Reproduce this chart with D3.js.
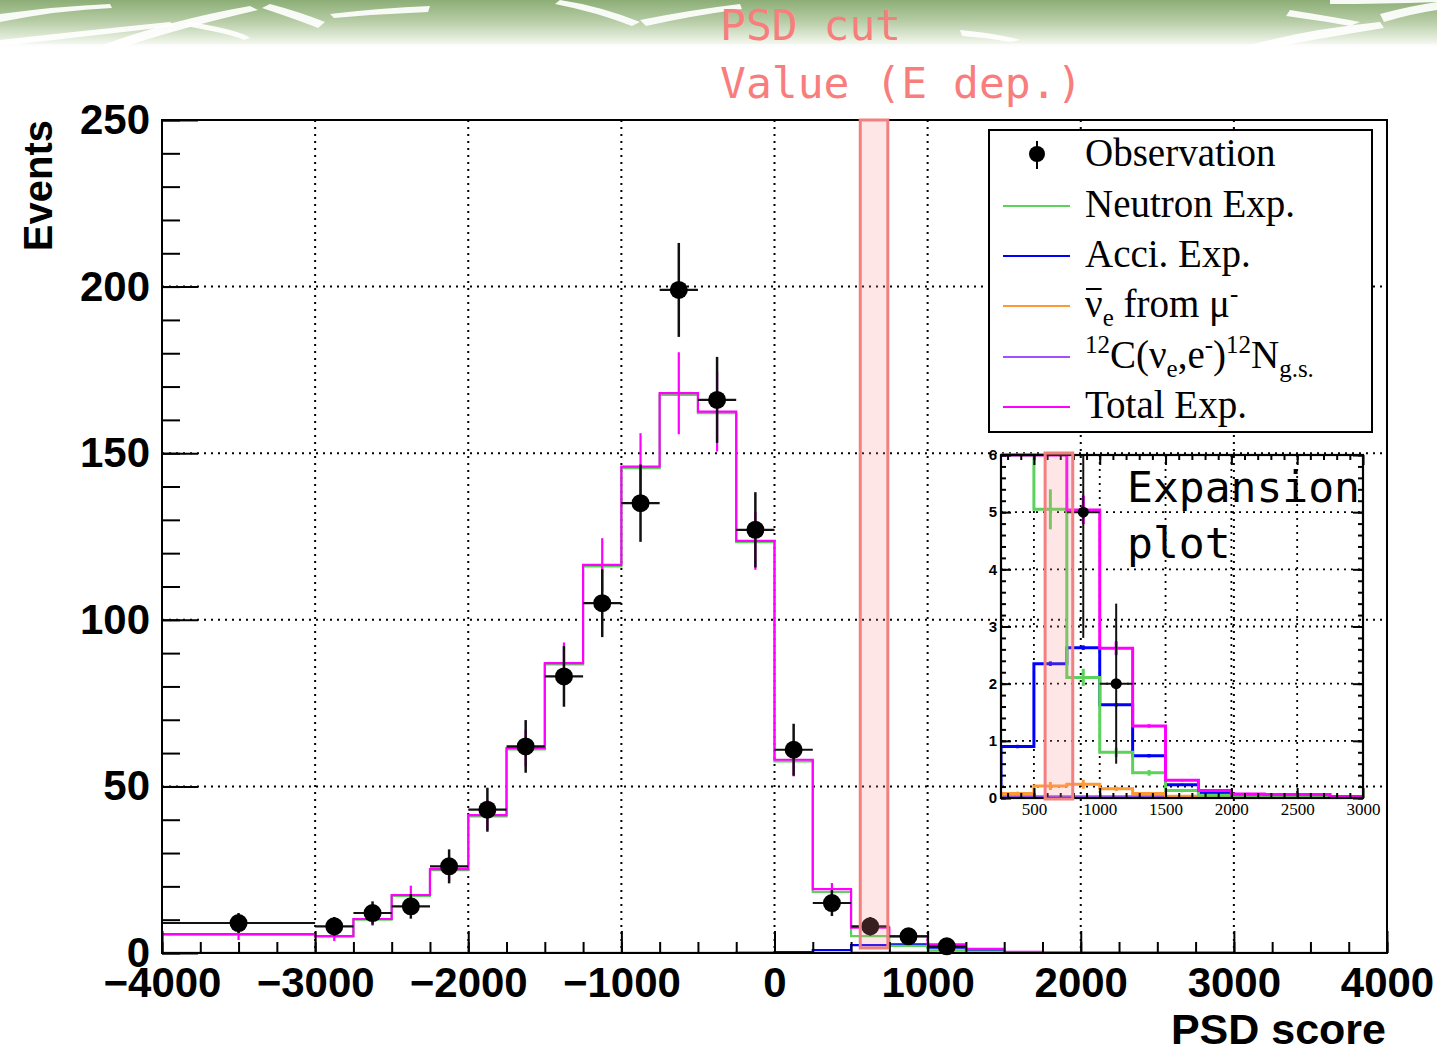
<!DOCTYPE html>
<html>
<head>
<meta charset="utf-8">
<script src="https://cdn.jsdelivr.net/npm/d3@7"></script>
<style>
  body { margin: 0; background: #fff; }
  svg { display: block; }
</style>
</head>
<body>
<div id="chart"></div>
<script>
const WIDTH = 1437;
const HEIGHT = 1050;

// bin edges of the PSD score histograms (first and last bins are wide)
const binEdges = [-4000, -3000, -2750, -2500, -2250, -2000, -1750, -1500, -1250, -1000,
  -750, -500, -250, 0, 250, 500, 750, 1000, 1250, 1500, 1750, 2000, 2250, 2500, 2750, 3000, 4000];

const observed = [9, 8, 12, 14, 26, 43, 62, 83, 105, 135, 199, 166, 127, 61, 15, 8, 5, 2,
  0, 0, 0, 0, 0, 0, 0, 0];
const observedErr = [3.0, 2.8, 3.5, 3.7, 5.1, 6.6, 7.9, 9.1, 10.2, 11.6, 14.1, 12.9, 11.3, 7.8,
  3.9, 2.8, 2.2, 1.4, 0, 0, 0, 0, 0, 0, 0, 0];

const neutronExp = [5.4, 4.9, 10.0, 17.1, 24.9, 41.0, 61.1, 86.6, 116.0, 145.5, 167.5, 162.0,
  123.3, 57.5, 18.3, 5.05, 2.11, 0.80, 0.44, 0.13, 0.05, 0.02, 0.02, 0.02, 0.01, 0];
const neutronErr = [1.8, 1.5, 2.0, 2.8, 3.5, 4.5, 5.5, 6.2, 8.0, 10.0, 12.3, 12.0, 8.7, 5.0,
  1.8, 0.35, 0.15, 0.08, 0.05, 0.03, 0.02, 0.01, 0.01, 0.01, 0, 0];

const acciExp = [0, 0, 0, 0, 0, 0, 0, 0, 0, 0, 0, 0, 0.05, 0.25, 0.9, 2.35, 2.63, 1.63, 0.74,
  0.23, 0.08, 0.03, 0.03, 0.02, 0.02, 0];
const acciErr = [0, 0, 0, 0, 0, 0, 0, 0, 0, 0, 0, 0, 0.01, 0.02, 0.03, 0.04, 0.04, 0.03, 0.03,
  0.02, 0.01, 0.01, 0.01, 0.01, 0.01, 0];

const nuebarExp = [0, 0, 0, 0, 0, 0, 0, 0, 0, 0, 0, 0, 0.01, 0.03, 0.08, 0.21, 0.24, 0.16, 0.08,
  0.03, 0.02, 0.01, 0.01, 0.01, 0.01, 0];
const nuebarErr = [0, 0, 0, 0, 0, 0, 0, 0, 0, 0, 0, 0, 0.01, 0.02, 0.03, 0.07, 0.08, 0.04, 0.02,
  0.01, 0.01, 0.01, 0, 0, 0, 0];

const c12Exp = [0.01, 0.01, 0.01, 0.01, 0.01, 0.01, 0.01, 0.01, 0.01, 0.01, 0.01, 0.01, 0.02,
  0.02, 0.02, 0.02, 0.02, 0.02, 0.02, 0.02, 0.02, 0.01, 0.01, 0.01, 0.01, 0.01];

const totalExp = [5.7, 5.1, 10.2, 17.4, 25.2, 41.4, 61.5, 87.0, 116.5, 146.0, 168.0, 162.5,
  123.7, 58.0, 19.2, 7.6, 5.04, 2.62, 1.26, 0.31, 0.13, 0.07, 0.06, 0.06, 0.02, 0];
const totalErr = [1.8, 1.5, 2.0, 2.8, 3.5, 4.5, 5.5, 6.2, 8.0, 10.0, 12.3, 12.0, 8.7, 5.0,
  1.8, 0.4, 0.25, 0.12, 0.03, 0.02, 0.01, 0.01, 0.01, 0.01, 0, 0];

const xMajorTicks = [-4000, -3000, -2000, -1000, 0, 1000, 2000, 3000, 4000];
const yMajorTicks = [0, 50, 100, 150, 200, 250];
const insetXTicks = [500, 1000, 1500, 2000, 2500, 3000];
const insetYTicks = [0, 1, 2, 3, 4, 5, 6];

// PSD cut window (annotation) in each panel
const cutMain = [560, 740];
const cutInset = [585, 795];

const COLORS = {
  neutron: '#5bd35b',
  acci: '#0000ff',
  nuebar: '#ff9933',
  c12: '#a050ff',
  total: '#ff00ff',
  cut: '#f28080',
  note: '#f87e7e'
};

const series = [
  { name: 'c12', values: c12Exp, err: null, color: COLORS.c12 },
  { name: 'nuebar', values: nuebarExp, err: nuebarErr, color: COLORS.nuebar },
  { name: 'acci', values: acciExp, err: acciErr, color: COLORS.acci },
  { name: 'neutron', values: neutronExp, err: neutronErr, color: COLORS.neutron },
  { name: 'total', values: totalExp, err: totalErr, color: COLORS.total }
];

const fmt = d3.format('d');

const svg = d3.select('#chart')
  .append('svg')
  .attr('width', WIDTH)
  .attr('height', HEIGHT);

// ---------- slide banner ----------
const defs = svg.append('defs');
const grad = defs.append('linearGradient')
  .attr('id', 'banner')
  .attr('x1', 0).attr('y1', 0).attr('x2', 0).attr('y2', 1);
grad.append('stop').attr('offset', '0%').attr('stop-color', '#8dae76');
grad.append('stop').attr('offset', '45%').attr('stop-color', '#b7cda6');
grad.append('stop').attr('offset', '80%').attr('stop-color', '#e4eddc');
grad.append('stop').attr('offset', '100%').attr('stop-color', '#ffffff');

svg.append('rect')
  .attr('x', 0).attr('y', 0)
  .attr('width', WIDTH).attr('height', 48)
  .attr('fill', 'url(#banner)');

const streaks = [
  'M0,14 Q60,6 110,4 L112,8 Q60,10 0,22 Z',
  'M0,40 Q90,30 170,22 L175,26 Q90,36 0,46 Z',
  'M100,46 Q170,20 250,6 L258,10 Q180,28 120,48 Z',
  'M190,22 Q240,30 250,38 L244,40 Q232,34 185,26 Z',
  'M270,4 Q300,12 325,22 L318,28 Q298,20 262,8 Z',
  'M330,14 Q380,8 430,6 L428,12 Q380,14 334,18 Z',
  'M560,0 Q600,6 640,22 L632,26 Q596,12 555,4 Z',
  'M640,20 Q690,10 740,4 L742,9 Q690,16 646,26 Z',
  'M960,30 Q1000,34 1020,40 L1010,42 Q990,38 962,36 Z',
  'M1240,48 Q1300,30 1380,22 L1384,28 Q1310,40 1270,48 Z',
  'M1290,10 Q1340,18 1360,22 L1350,26 Q1330,22 1286,16 Z',
  'M1380,14 Q1410,6 1437,2 L1437,10 Q1410,14 1384,22 Z',
  'M1330,0 L1437,0 L1437,2 Q1380,4 1330,4 Z'
];
svg.append('g')
  .selectAll('path')
  .data(streaks)
  .enter()
  .append('path')
  .attr('d', d => d)
  .attr('fill', '#ffffff')
  .attr('opacity', 0.92);

svg.append('rect')
  .attr('x', 0).attr('y', 44)
  .attr('width', WIDTH).attr('height', 6)
  .attr('fill', '#ffffff')
  .attr('opacity', 0.6);

// ---------- main plot ----------
const x = d3.scaleLinear().domain([-4000, 4000]).range([162, 1387]);
const y = d3.scaleLinear().domain([0, 250]).range([953, 120]);

defs.append('clipPath').attr('id', 'clip-main')
  .append('rect')
  .attr('x', x(-4000)).attr('y', y(250))
  .attr('width', x(4000) - x(-4000)).attr('height', y(0) - y(250));

const main = svg.append('g');

// dotted grid
main.append('g')
  .selectAll('line')
  .data(xMajorTicks.slice(1, -1))
  .enter()
  .append('line')
  .attr('x1', d => x(d)).attr('x2', d => x(d))
  .attr('y1', y(250)).attr('y2', y(0))
  .attr('stroke', '#000')
  .attr('stroke-width', 2)
  .attr('stroke-dasharray', '2,5');

main.append('g')
  .selectAll('line')
  .data(yMajorTicks.slice(1, -1))
  .enter()
  .append('line')
  .attr('x1', x(-4000)).attr('x2', x(4000))
  .attr('y1', d => y(d)).attr('y2', d => y(d))
  .attr('stroke', '#000')
  .attr('stroke-width', 2)
  .attr('stroke-dasharray', '2,5');

function stepPoints(vals, yMax) {
  let pts = [[binEdges[0], 0]];
  vals.forEach((v, i) => {
    let c = Math.min(v, yMax);
    pts.push([binEdges[i], c], [binEdges[i + 1], c]);
  });
  pts.push([binEdges[binEdges.length - 1], 0]);
  return pts;
}

function binCenter(i) {
  return (binEdges[i] + binEdges[i + 1]) / 2;
}

const mainLine = d3.line().x(d => x(d[0])).y(d => y(d[1]));

const mainHist = main.append('g').attr('clip-path', 'url(#clip-main)');

series.forEach(s => {
  mainHist.append('path')
    .attr('d', mainLine(stepPoints(s.values, 250)))
    .attr('fill', 'none')
    .attr('stroke', s.color)
    .attr('stroke-width', 2.2);
});

// MC statistical errors of the total expectation
mainHist.append('g')
  .selectAll('line')
  .data(totalExp.map((v, i) => ({ v: v, e: totalErr[i], c: binCenter(i) })).filter(d => d.e > 0.5))
  .enter()
  .append('line')
  .attr('x1', d => x(d.c)).attr('x2', d => x(d.c))
  .attr('y1', d => y(d.v - d.e)).attr('y2', d => y(d.v + d.e))
  .attr('stroke', COLORS.total)
  .attr('stroke-width', 2.2);

// observation
const obsMain = observed
  .map((v, i) => ({ v: v, e: observedErr[i], lo: binEdges[i], hi: binEdges[i + 1], c: binCenter(i) }))
  .filter(d => d.v > 0);

const obsG = main.append('g');
obsG.selectAll('line.h')
  .data(obsMain)
  .enter()
  .append('line')
  .attr('class', 'h')
  .attr('x1', d => x(d.lo)).attr('x2', d => x(d.hi))
  .attr('y1', d => y(d.v)).attr('y2', d => y(d.v))
  .attr('stroke', '#111')
  .attr('stroke-width', 2.2);
obsG.selectAll('line.v')
  .data(obsMain)
  .enter()
  .append('line')
  .attr('class', 'v')
  .attr('x1', d => x(d.c)).attr('x2', d => x(d.c))
  .attr('y1', d => y(d.v - d.e)).attr('y2', d => y(d.v + d.e))
  .attr('stroke', '#111')
  .attr('stroke-width', 2.5);
obsG.selectAll('circle')
  .data(obsMain)
  .enter()
  .append('circle')
  .attr('cx', d => x(d.c)).attr('cy', d => y(d.v))
  .attr('r', 9)
  .attr('fill', '#000');

// axes (ROOT style: ticks inside the frame)
main.append('g')
  .attr('transform', `translate(0,${y(0)})`)
  .call(d3.axisBottom(x).tickValues(xMajorTicks).tickSize(-22).tickPadding(14).tickFormat(fmt));
main.append('g')
  .attr('transform', `translate(0,${y(0)})`)
  .call(d3.axisBottom(x).tickValues(d3.range(-4000, 4001, 250)).tickSize(-11).tickFormat(''));
main.append('g')
  .attr('transform', `translate(${x(-4000)},0)`)
  .call(d3.axisLeft(y).tickValues(yMajorTicks).tickSize(-36).tickPadding(12).tickFormat(fmt));
main.append('g')
  .attr('transform', `translate(${x(-4000)},0)`)
  .call(d3.axisLeft(y).tickValues(d3.range(0, 251, 10)).tickSize(-18).tickFormat(''));

main.selectAll('.domain').remove();
main.selectAll('.tick line').attr('stroke', '#000').attr('stroke-width', 2);
main.selectAll('.tick text')
  .attr('font-family', 'Liberation Sans, Arial, sans-serif')
  .attr('font-weight', 'bold')
  .attr('font-size', 42)
  .attr('fill', '#000');

main.append('rect')
  .attr('x', x(-4000)).attr('y', y(250))
  .attr('width', x(4000) - x(-4000)).attr('height', y(0) - y(250))
  .attr('fill', 'none')
  .attr('stroke', '#000')
  .attr('stroke-width', 2);

svg.append('text')
  .attr('transform', `translate(52,120) rotate(-90)`)
  .attr('text-anchor', 'end')
  .attr('font-family', 'Liberation Sans, Arial, sans-serif')
  .attr('font-weight', 'bold')
  .attr('font-size', 40)
  .text('Events');

svg.append('text')
  .attr('x', 1386).attr('y', 1044)
  .attr('text-anchor', 'end')
  .attr('font-family', 'Liberation Sans, Arial, sans-serif')
  .attr('font-weight', 'bold')
  .attr('font-size', 43)
  .text('PSD score');

// ---------- legend ----------
const legend = svg.append('g');
legend.append('rect')
  .attr('x', 989).attr('y', 130)
  .attr('width', 383).attr('height', 302)
  .attr('fill', '#fff')
  .attr('stroke', '#000')
  .attr('stroke-width', 2);

const LEG_X = 1085;
const LEG_ROW = [166, 217, 267, 317, 368, 418];
const LEG_FONT = 'Liberation Serif, Times New Roman, serif';
const LEG_SIZE = 39;

function richText(g, xPos, yPos, parts, size) {
  let t = g.append('text')
    .attr('x', xPos).attr('y', yPos)
    .attr('font-family', LEG_FONT)
    .attr('font-size', size)
    .attr('fill', '#000');
  let offset = 0;
  parts.forEach(p => {
    let shift = p.pos === 'sup' ? -size * 0.38 : p.pos === 'sub' ? size * 0.22 : 0;
    t.append('tspan')
      .attr('dy', shift - offset)
      .attr('font-size', p.pos ? size * 0.64 : size)
      .text(p.t);
    offset = shift;
  });
  return t;
}

legend.append('line')
  .attr('x1', 1037).attr('x2', 1037)
  .attr('y1', LEG_ROW[0] - 25).attr('y2', LEG_ROW[0] + 3)
  .attr('stroke', '#000').attr('stroke-width', 2);
legend.append('circle')
  .attr('cx', 1037).attr('cy', LEG_ROW[0] - 12)
  .attr('r', 8).attr('fill', '#000');
richText(legend, LEG_X, LEG_ROW[0], [{ t: 'Observation' }], LEG_SIZE);

const legendLines = [
  { color: COLORS.neutron, parts: [{ t: 'Neutron Exp.' }] },
  { color: COLORS.acci, parts: [{ t: 'Acci. Exp.' }] },
  { color: COLORS.nuebar, parts: [{ t: 'ν' }, { t: 'e', pos: 'sub' }, { t: ' from μ' }, { t: '-', pos: 'sup' }] },
  { color: COLORS.c12, parts: [{ t: '12', pos: 'sup' }, { t: 'C(ν' }, { t: 'e', pos: 'sub' }, { t: ',e' },
    { t: '-', pos: 'sup' }, { t: ')' }, { t: '12', pos: 'sup' }, { t: 'N' }, { t: 'g.s.', pos: 'sub' }] },
  { color: COLORS.total, parts: [{ t: 'Total Exp.' }] }
];

legendLines.forEach((d, i) => {
  let yy = LEG_ROW[i + 1];
  legend.append('line')
    .attr('x1', 1003).attr('x2', 1070)
    .attr('y1', yy - 11).attr('y2', yy - 11)
    .attr('stroke', d.color)
    .attr('stroke-width', 2);
  let t = richText(legend, LEG_X, yy, d.parts, LEG_SIZE);
  if (i === 2) {
    // bar over the nu
    let nu = t.select('tspan').node();
    let w = nu.getComputedTextLength();
    legend.append('line')
      .attr('x1', LEG_X + 1).attr('x2', LEG_X + w - 1)
      .attr('y1', yy - 28).attr('y2', yy - 28)
      .attr('stroke', '#000').attr('stroke-width', 2);
  }
});

// ---------- inset (expansion plot) ----------
const ix = d3.scaleLinear().domain([250, 3000]).range([1001, 1363]);
const iy = d3.scaleLinear().domain([0, 6]).range([798, 455]);

defs.append('clipPath').attr('id', 'clip-inset')
  .append('rect')
  .attr('x', ix(250)).attr('y', iy(6) - 2)
  .attr('width', ix(3000) - ix(250)).attr('height', iy(0) - iy(6) + 2);

const inset = svg.append('g');

inset.append('g')
  .selectAll('line')
  .data(insetXTicks.slice(0, -1))
  .enter()
  .append('line')
  .attr('x1', d => ix(d)).attr('x2', d => ix(d))
  .attr('y1', iy(6)).attr('y2', iy(0))
  .attr('stroke', '#000')
  .attr('stroke-width', 1.8)
  .attr('stroke-dasharray', '2,5');
inset.append('g')
  .selectAll('line')
  .data(insetYTicks.slice(1, -1))
  .enter()
  .append('line')
  .attr('x1', ix(250)).attr('x2', ix(3000))
  .attr('y1', d => iy(d)).attr('y2', d => iy(d))
  .attr('stroke', '#000')
  .attr('stroke-width', 1.8)
  .attr('stroke-dasharray', '2,5');

const insetLine = d3.line().x(d => ix(d[0])).y(d => iy(d[1]));
const insetHist = inset.append('g').attr('clip-path', 'url(#clip-inset)');

series.forEach(s => {
  insetHist.append('path')
    .attr('d', insetLine(stepPoints(s.values, 6)))
    .attr('fill', 'none')
    .attr('stroke', s.color)
    .attr('stroke-width', 3);
  if (s.err) {
    insetHist.append('g')
      .selectAll('line')
      .data(s.values.map((v, i) => ({ v: v, e: s.err[i], c: binCenter(i) }))
        .filter(d => d.v < 6 && d.e > 0 && d.c > 250 && d.c < 3000))
      .enter()
      .append('line')
      .attr('x1', d => ix(d.c)).attr('x2', d => ix(d.c))
      .attr('y1', d => iy(d.v - Math.max(d.e, 0.02))).attr('y2', d => iy(d.v + Math.max(d.e, 0.02)))
      .attr('stroke', s.color)
      .attr('stroke-width', 3);
  }
});

const obsInset = observed
  .map((v, i) => ({ v: v, e: observedErr[i], lo: binEdges[i], hi: binEdges[i + 1], c: binCenter(i) }))
  .filter(d => d.v > 0 && d.v < 6 && d.c > 250 && d.c < 3000);

insetHist.selectAll('line.h')
  .data(obsInset)
  .enter()
  .append('line')
  .attr('class', 'h')
  .attr('x1', d => ix(d.lo)).attr('x2', d => ix(d.hi))
  .attr('y1', d => iy(d.v)).attr('y2', d => iy(d.v))
  .attr('stroke', '#111').attr('stroke-width', 2);
insetHist.selectAll('line.v')
  .data(obsInset)
  .enter()
  .append('line')
  .attr('class', 'v')
  .attr('x1', d => ix(d.c)).attr('x2', d => ix(d.c))
  .attr('y1', d => iy(d.v - d.e)).attr('y2', d => iy(Math.min(d.v + d.e, 6)))
  .attr('stroke', '#111').attr('stroke-width', 2);
insetHist.selectAll('circle')
  .data(obsInset)
  .enter()
  .append('circle')
  .attr('cx', d => ix(d.c)).attr('cy', d => iy(d.v))
  .attr('r', 5.5).attr('fill', '#000');

// inset ticks on all four sides
function insetTicks(axisFn, scale, values, size, transform) {
  inset.append('g')
    .attr('transform', transform)
    .call(axisFn(scale).tickValues(values).tickSize(size).tickFormat(''));
}
insetTicks(d3.axisBottom, ix, insetXTicks, -10, `translate(0,${iy(0)})`);
insetTicks(d3.axisBottom, ix, d3.range(300, 3000, 100), -5, `translate(0,${iy(0)})`);
insetTicks(d3.axisTop, ix, insetXTicks, -10, `translate(0,${iy(6)})`);
insetTicks(d3.axisTop, ix, d3.range(300, 3000, 100), -5, `translate(0,${iy(6)})`);
insetTicks(d3.axisLeft, iy, insetYTicks, -10, `translate(${ix(250)},0)`);
insetTicks(d3.axisLeft, iy, d3.range(0, 6.01, 0.2), -5, `translate(${ix(250)},0)`);
insetTicks(d3.axisRight, iy, insetYTicks, -10, `translate(${ix(3000)},0)`);
insetTicks(d3.axisRight, iy, d3.range(0, 6.01, 0.2), -5, `translate(${ix(3000)},0)`);

inset.append('g')
  .attr('transform', `translate(0,${iy(0)})`)
  .call(d3.axisBottom(ix).tickValues(insetXTicks).tickSize(0).tickPadding(5).tickFormat(fmt))
  .selectAll('text')
  .attr('font-family', LEG_FONT)
  .attr('font-size', 17);
inset.append('g')
  .attr('transform', `translate(${ix(250)},0)`)
  .call(d3.axisLeft(iy).tickValues(insetYTicks).tickSize(0).tickPadding(4).tickFormat(fmt))
  .selectAll('text')
  .attr('font-family', 'Liberation Sans, Arial, sans-serif')
  .attr('font-weight', 'bold')
  .attr('font-size', 15);

inset.selectAll('.domain').remove();
inset.selectAll('.tick line').attr('stroke', '#000').attr('stroke-width', 2);
inset.selectAll('.tick text').attr('fill', '#000');

inset.append('rect')
  .attr('x', ix(250)).attr('y', iy(6))
  .attr('width', ix(3000) - ix(250)).attr('height', iy(0) - iy(6))
  .attr('fill', 'none')
  .attr('stroke', '#000')
  .attr('stroke-width', 2.2);

// ---------- annotations ----------
svg.append('rect')
  .attr('x', x(cutMain[0])).attr('y', y(250))
  .attr('width', x(cutMain[1]) - x(cutMain[0]))
  .attr('height', y(1.5) - y(250))
  .attr('fill', 'rgba(250,140,140,0.22)')
  .attr('stroke', COLORS.cut)
  .attr('stroke-width', 3);

svg.append('rect')
  .attr('x', ix(cutInset[0])).attr('y', iy(6) - 2)
  .attr('width', ix(cutInset[1]) - ix(cutInset[0]))
  .attr('height', iy(0) - iy(6) + 3)
  .attr('fill', 'rgba(250,140,140,0.22)')
  .attr('stroke', COLORS.cut)
  .attr('stroke-width', 3);

const MONO = 'DejaVu Sans Mono, monospace';
[['PSD cut', 40], ['Value (E dep.)', 98]].forEach(d => {
  svg.append('text')
    .attr('x', 720).attr('y', d[1])
    .attr('font-family', MONO)
    .attr('font-size', 43)
    .attr('fill', COLORS.note)
    .style('white-space', 'pre')
    .text(d[0]);
});

[['Expansion', 502], ['plot', 558]].forEach(d => {
  svg.append('text')
    .attr('x', 1127).attr('y', d[1])
    .attr('font-family', MONO)
    .attr('font-size', 43)
    .attr('fill', '#000')
    .text(d[0]);
});
</script>
</body>
</html>
